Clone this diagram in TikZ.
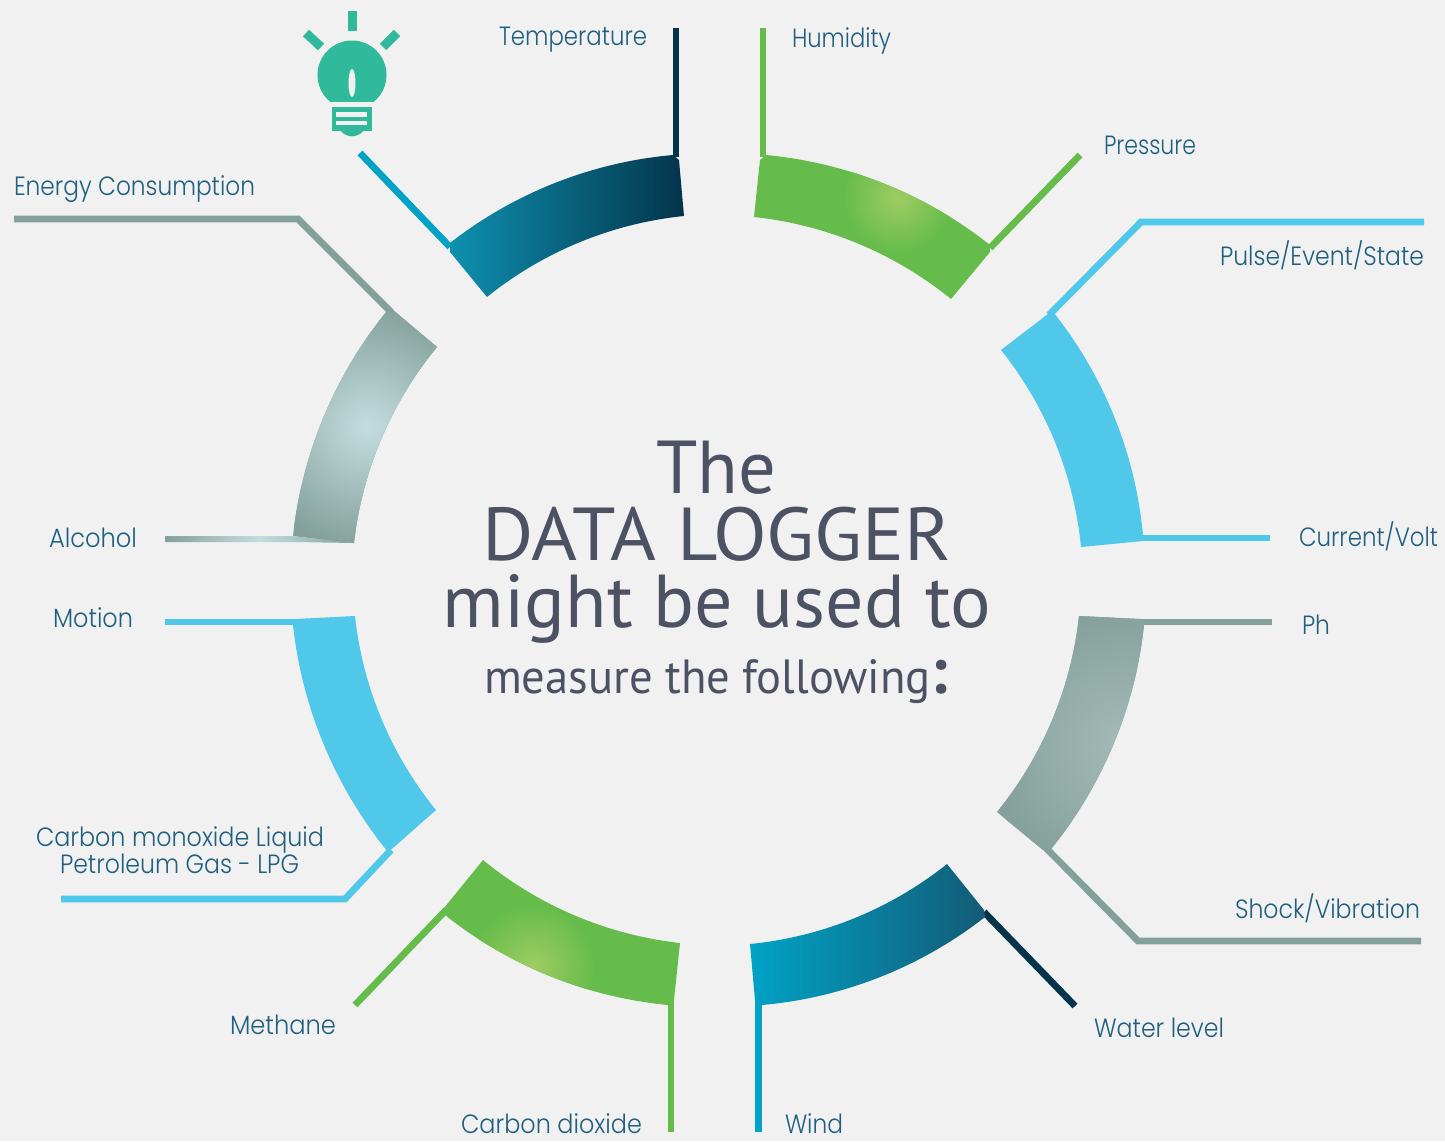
\documentclass[tikz,border=0pt]{standalone}
\usepackage{graphicx}
\usepackage{fontspec}
\setmainfont{Poppins}[UprightFont=* Light]
\newfontfamily\headfont{PT Sans}
\definecolor{bgc}{HTML}{F1F1F1}
\definecolor{labc}{HTML}{1F5F7F}
\definecolor{headc}{HTML}{4D5164}
\definecolor{sky}{HTML}{50C8EA}
\definecolor{leaf}{HTML}{65BC4A}
\definecolor{leafhi}{HTML}{9FCC62}
\definecolor{sage}{HTML}{84A09A}
\definecolor{sagehi}{HTML}{C3DEDF}
\definecolor{sagemid}{HTML}{A4BBB6}
\definecolor{teal}{HTML}{00A3C6}
\definecolor{tealb}{HTML}{0E90AF}
\definecolor{navy}{HTML}{03344A}
\definecolor{navyb}{HTML}{135B76}
\definecolor{bulb}{HTML}{30B99B}
\tikzset{
 lead/.style={line width=3.4pt,line cap=butt,line join=miter},
 lbl/.style={inner sep=0pt,outer sep=0pt,text=labc,anchor=base west,font=\fontsize{13.2}{13.2}\selectfont},
 head/.style={inner sep=0pt,outer sep=0pt,text=headc,anchor=base},
 rim/.style={bend left=16.5,looseness=0.87},
 hub/.style={bend right=16.5,looseness=0.87},
}
% \fitbox{width in px}{text}: sets text to the width it has in the reference
\newcommand{\fitbox}[2]{\resizebox{\dimexpr #1pt/2\relax}{\height}{#2}}
% ring segment: outer arc a->b, step b->b2, inner arc c->d, step d->d2
\newcommand{\ringseg}[1]{(#1a) to[rim] (#1b) -- (#1b2) -- (#1c) to[hub] (#1d) -- (#1d2) -- cycle}
\begin{document}
\begin{tikzpicture}[x=0.5pt,y=-0.5pt]
\useasboundingbox (0,0) rectangle (1445,1141);
\fill[bgc] (0,0) rectangle (1445,1141);

% corners of the ring segments
\coordinate (Ta) at (450,243); \coordinate (Tb) at (673,155); \coordinate (Tb2) at (679,160);
\coordinate (Tc) at (684,216); \coordinate (Td) at (487,297); \coordinate (Td2) at (450,252);
\coordinate (Ha) at (766,155); \coordinate (Hb) at (990,245); \coordinate (Hb2) at (990,252);
\coordinate (Hc) at (951,299); \coordinate (Hd) at (754,217); \coordinate (Hd2) at (760,160);
\coordinate (Pa) at (1054,313); \coordinate (Pb) at (1143,535); \coordinate (Pb2) at (1143,541);
\coordinate (Pc) at (1081,547); \coordinate (Pd) at (1001,350); \coordinate (Pd2) at (1048,314);
\coordinate (Sa) at (1144,625); \coordinate (Sb) at (1051,849); \coordinate (Sb2) at (1043,850);
\coordinate (Sc) at (997,812); \coordinate (Sd) at (1079,616); \coordinate (Sd2) at (1140,619);
\coordinate (Wa) at (985,917); \coordinate (Wb) at (762,1005); \coordinate (Wb2) at (755,1000);
\coordinate (Wc) at (750,944); \coordinate (Wd) at (947,864); \coordinate (Wd2) at (984,910);
\coordinate (Ca) at (668,1005); \coordinate (Cb) at (445,915); \coordinate (Cb2) at (444,908);
\coordinate (Cc) at (483,860); \coordinate (Cd) at (680,943); \coordinate (Cd2) at (674,1000);
\coordinate (Ma) at (388,852); \coordinate (Mb) at (293,625); \coordinate (Mb2) at (295,619);
\coordinate (Mc) at (355,616); \coordinate (Md) at (436,810); \coordinate (Md2) at (393,848);
\coordinate (Aa) at (293,536); \coordinate (Ab) at (387,311); \coordinate (Ab2) at (393,310);
\coordinate (Ac) at (437,347); \coordinate (Ad) at (354,543); \coordinate (Ad2) at (300,537);

% free ends of the leaders
\coordinate (l1) at (360,153); \coordinate (l1e) at (450,247);
\coordinate (l2) at (676,28); \coordinate (l2e) at (676,157);
\coordinate (l3) at (763,28); \coordinate (l3e) at (763,157);
\coordinate (l4) at (1080,155); \coordinate (l4e) at (990,248);
\coordinate (l5) at (1424,222); \coordinate (l5m) at (1141,222); \coordinate (l5e) at (1049,315);
\coordinate (l6) at (1270,538); \coordinate (l6e) at (1141,538);
\coordinate (l7) at (1272,622); \coordinate (l7e) at (1138,622);
\coordinate (l8) at (1421,941); \coordinate (l8m) at (1138,941); \coordinate (l8e) at (1046,848);
\coordinate (l9) at (1075,1006); \coordinate (l9e) at (984,912);
\coordinate (l10) at (758.5,1132); \coordinate (l10e) at (758.5,1000);
\coordinate (l11) at (671,1132); \coordinate (l11e) at (671,1000);
\coordinate (l12) at (355,1005); \coordinate (l12e) at (446,910);
\coordinate (l13) at (61,899); \coordinate (l13m) at (345,899); \coordinate (l13e) at (391,850);
\coordinate (l14) at (165,622); \coordinate (l14e) at (297,622);
\coordinate (l15) at (14,219); \coordinate (l15m) at (298,219); \coordinate (l15e) at (391,312);

% leaders
\draw[lead,teal] (l1) -- (l1e);
\draw[lead,navy] (l2) -- (l2e);
\draw[lead,leaf] (l3) -- (l3e);
\draw[lead,leaf] (l4) -- (l4e);
\draw[lead,sky] (l5) -- (l5m) -- (l5e);
\draw[lead,sky] (l6) -- (l6e);
\draw[lead,sage] (l7) -- (l7e);
\draw[lead,sage] (l8) -- (l8m) -- (l8e);
\draw[lead,navy] (l9) -- (l9e);
\draw[lead,teal] (l10) -- (l10e);
\draw[lead,leaf] (l11) -- (l11e);
\draw[lead,leaf] (l12) -- (l12e);
\draw[lead,sky] (l13) -- (l13m) -- (l13e);
\draw[lead,sky] (l14) -- (l14e);
\draw[lead,sage] (l15) -- (l15m) -- (l15e);

% ring segments
\shade[left color=tealb,right color=navy] \ringseg{T};
\fill[leaf] \ringseg{H};
\begin{scope}
 \clip \ringseg{H};
 \shade[inner color=leafhi,outer color=leaf] (898,198) circle (55);
\end{scope}
\fill[sky] \ringseg{P};
\fill[sage] \ringseg{S};
\begin{scope}
 \clip \ringseg{S};
 \shade[inner color=sagemid,outer color=sage] (1125,745) circle (140);
\end{scope}
\shade[left color=teal,right color=navyb] \ringseg{W};
\fill[leaf] \ringseg{C};
\begin{scope}
 \clip \ringseg{C};
 \shade[inner color=leafhi,outer color=leaf] (533,966) circle (62);
\end{scope}
\fill[sky] \ringseg{M};
\fill[sage] \ringseg{A};
\begin{scope}
 \clip \ringseg{A};
 \shade[inner color=sagehi,outer color=sage] (367,427) circle (122);
\end{scope}
% Alcohol leader, drawn over the foot of its segment
\shade[left color=sage,right color=sage,middle color=sagehi]
  (165,536) -- (293,536) -- (354,543) -- (293,542) -- (165,542) -- cycle;

% bulb icon
\fill[bulb] (352,75) circle (34.5);
\fill[bulb] (330,103) -- (374,103) -- (352,70) -- cycle;
\fill[bgc] (352,83) ellipse (3.5 and 14);
\fill[bgc] (325,102) rectangle (380,106.5);
\fill[bulb] (332,107) rectangle (372,131);
\fill[bulb] (341,131) .. controls (346,138) and (358,138) .. (363,131) -- cycle;
\fill[bgc] (336,112) rectangle (367,116.5);
\fill[bgc] (336,121) rectangle (367,125);
\fill[bulb] (347.5,11) rectangle (356.5,31);
\draw[line width=4.5pt,bulb] (306,33) -- (321,47);
\draw[line width=4.5pt,bulb] (397,33) -- (383,47);

% labels
\node[lbl] (n1) at (499,45) {\fitbox{148}{Temperature}};
\node[lbl] (n2) at (792,47) {\fitbox{99}{Humidity}};
\node[lbl] (n3) at (1104,154) {\fitbox{92}{Pressure}};
\node[lbl] (n4) at (1220,265) {\fitbox{204}{Pulse/Event/State}};
\node[lbl] (n5) at (1299,546) {\fitbox{139}{Current/Volt}};
\node[lbl] (n6) at (1302,634) {\fitbox{28}{Ph}};
\node[lbl] (n7) at (1235,918) {\fitbox{185}{Shock/Vibration}};
\node[lbl] (n8) at (1094,1037) {\fitbox{130}{Water level}};
\node[lbl] (n9) at (785,1133) {\fitbox{58}{Wind}};
\node[lbl] (n10) at (461,1133) {\fitbox{181}{Carbon dioxide}};
\node[lbl] (n11) at (230,1034) {\fitbox{106}{Methane}};
\node[lbl] (n12) at (36,846) {\fitbox{288}{Carbon monoxide Liquid}};
\node[lbl] (n13) at (60,873) {\fitbox{239}{Petroleum Gas - LPG}};
\node[lbl] (n14) at (53,627) {\fitbox{80}{Motion}};
\node[lbl] (n15) at (49,547) {\fitbox{88}{Alcohol}};
\node[lbl] (n16) at (14,195) {\fitbox{241}{Energy Consumption}};

% centre text
\node[head] (h1) at (716,493) {\headfont\fontsize{37.5}{37.5}\selectfont\fitbox{120}{The}};
\node[head] (h2) at (717,560) {\headfont\fontsize{37.5}{37.5}\selectfont\fitbox{469}{DATA LOGGER}};
\node[head] (h3) at (717,627) {\headfont\fontsize{37.5}{37.5}\selectfont\fitbox{548}{might be used to}};
\node[head] (h4) at (716,693) {\headfont\fontsize{24}{24}\selectfont\fitbox{464}{measure the following\textbf{\fontsize{33}{33}\selectfont:}}};
\end{tikzpicture}
\end{document}
